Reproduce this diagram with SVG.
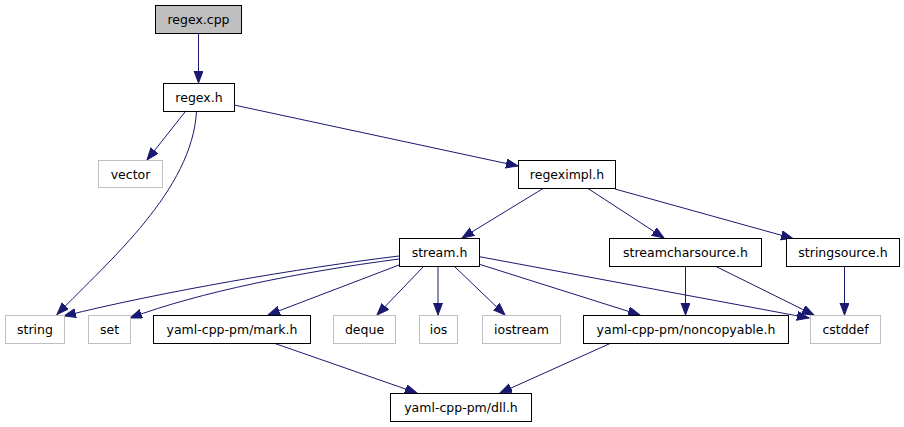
<svg xmlns="http://www.w3.org/2000/svg" width="904" height="427" viewBox="0 0 904 427">
<style>
  .n rect { fill: #ffffff; stroke: #000000; stroke-width: 1; }
  .sys rect { fill: #ffffff; stroke: #bfbfbf; stroke-width: 1; }
  .root rect { fill: #bfbfbf; stroke: #000000; stroke-width: 1; }
  text { font-family: "DejaVu Sans", "Liberation Sans", sans-serif; font-size: 12.5px; fill: #000000; text-anchor: middle; }
  .e path { fill: none; stroke: #191970; stroke-width: 1; marker-end: url(#arr); }
</style>
<defs>
  <marker id="arr" markerUnits="userSpaceOnUse" markerWidth="14" markerHeight="11" refX="12" refY="4.5" orient="auto">
    <path d="M0,0 L12,4.5 L0,9 z" fill="#191970" stroke="#191970" stroke-width="1"/>
  </marker>
</defs>
<rect width="904" height="427" fill="#ffffff"/>
<g id="edges" class="e">
  <path d="M198.5,33.5 L198.5,83"/>
  <path d="M185,112 L147,160"/>
  <path d="M196.5,111.5 C192,190 110,260 57,314.5"/>
  <path d="M234,105 L518,166"/>
  <path d="M543,188.5 L462,238"/>
  <path d="M588,188.5 L664,238"/>
  <path d="M615,189 L793,238.5"/>
  <path d="M399,256 C300,268 160,292 64,316"/>
  <path d="M399,259 C300,272 200,292 130,318"/>
  <path d="M399,265 L268,315"/>
  <path d="M424,266 L377,315"/>
  <path d="M438,266 L438,315"/>
  <path d="M454,266 L505,315"/>
  <path d="M478.5,264 L640,315"/>
  <path d="M478.5,256.5 L809,318"/>
  <path d="M685.5,266 L685.5,315"/>
  <path d="M715,266 L814,315"/>
  <path d="M844.5,266 L844.5,315"/>
  <path d="M275,343.5 L417,393"/>
  <path d="M610,343.5 L500,393"/>
</g>
<g id="regex_cpp" class="root"><rect x="155.5" y="5.5" width="86" height="28"/><text x="198.5" y="24">regex.cpp</text></g>
<g id="regex_h" class="n"><rect x="163.5" y="83.5" width="71" height="28"/><text x="199" y="102">regex.h</text></g>
<g id="vector" class="sys"><rect x="98.5" y="160.5" width="64" height="27"/><text x="130.5" y="178.5">vector</text></g>
<g id="regeximpl_h" class="n"><rect x="518.5" y="160.5" width="97" height="28"/><text x="567" y="179">regeximpl.h</text></g>
<g id="stream_h" class="n"><rect x="399.5" y="238.5" width="80" height="28"/><text x="439.5" y="257">stream.h</text></g>
<g id="streamcharsource_h" class="n"><rect x="609.5" y="238.5" width="152" height="28"/><text x="685.5" y="257">streamcharsource.h</text></g>
<g id="stringsource_h" class="n"><rect x="786.5" y="238.5" width="113" height="28"/><text x="843" y="257">stringsource.h</text></g>
<g id="string" class="sys"><rect x="5.5" y="315.5" width="59" height="28"/><text x="35" y="334">string</text></g>
<g id="set" class="sys"><rect x="88.5" y="315.5" width="42" height="28"/><text x="109.5" y="334">set</text></g>
<g id="mark_h" class="n"><rect x="153.5" y="315.5" width="157" height="28"/><text x="232" y="334">yaml-cpp-pm/mark.h</text></g>
<g id="deque" class="sys"><rect x="333.5" y="315.5" width="62" height="28"/><text x="364.5" y="334">deque</text></g>
<g id="ios" class="sys"><rect x="419.5" y="315.5" width="38" height="28"/><text x="438.5" y="334">ios</text></g>
<g id="iostream" class="sys"><rect x="482.5" y="315.5" width="78" height="28"/><text x="521.5" y="334">iostream</text></g>
<g id="noncopyable_h" class="n"><rect x="583.5" y="315.5" width="205" height="28"/><text x="686" y="334">yaml-cpp-pm/noncopyable.h</text></g>
<g id="cstddef" class="sys"><rect x="810.5" y="315.5" width="70" height="28"/><text x="845.5" y="334">cstddef</text></g>
<g id="dll_h" class="n"><rect x="390.5" y="393.5" width="141" height="28"/><text x="461" y="412">yaml-cpp-pm/dll.h</text></g>
</svg>
